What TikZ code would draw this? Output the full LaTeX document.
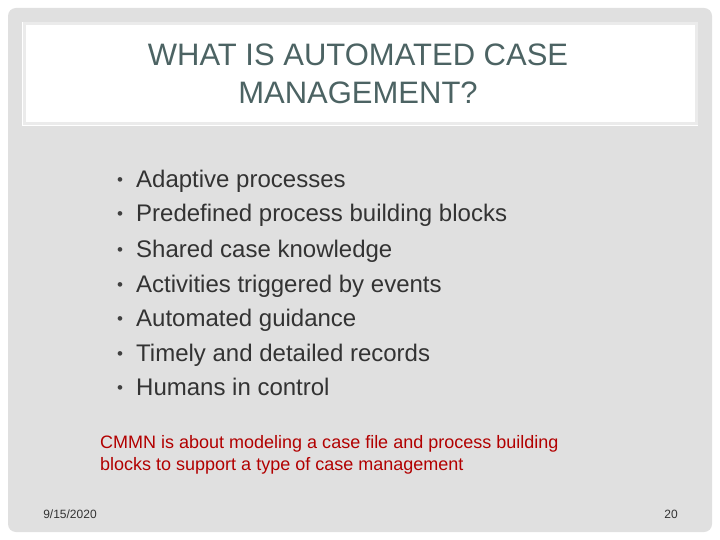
\documentclass[tikz,border=0pt]{standalone}
\usepackage{fontspec}
\setmainfont{Liberation Sans}
\begin{document}
\begin{tikzpicture}[x=1pt,y=-1pt,inner sep=0pt,
  bul/.style={anchor=base west,font=\fontsize{24}{28}\selectfont,text=black!80},
  dot/.style={anchor=base west,font=\fontsize{17}{20}\selectfont,text=black!75},
  red/.style={anchor=base west,font=\fontsize{18}{21}\selectfont,text=red!70!black},
  small/.style={font=\fontsize{12}{14}\selectfont,text=black!80}]
\useasboundingbox (0,0) rectangle (720,540);
\fill[white] (0,0) rectangle (720,540);
\fill[black!12,rounded corners=8] (8,8) rectangle (712,532);
\fill[white] (22,22) rectangle (698,126);
\draw[black!8,line width=3] (24,24) rectangle (696,124);
\node[font=\fontsize{31}{38}\selectfont,text=black!55!teal!40!gray,align=center] (t) at (358,74) {WHAT IS AUTOMATED CASE\\MANAGEMENT?};
\foreach \y/\s [count=\i] in {188/Adaptive processes,222/Predefined process building blocks,257/Shared case knowledge,292/Activities triggered by events,326/Automated guidance,361/Timely and detailed records,395/Humans in control}{
  \node[dot] (b\i) at (117,\y-2) {•};
  \node[bul] (l\i) at (136,\y) {\s};
}
\node[red] (r1) at (100,448) {CMMN is about modeling a case file and process building};
\node[red] (r2) at (100,470) {blocks to support a type of case management};
\node[small] (d) at (70,514) {9/15/2020};
\node[small] (p) at (671,514) {20};
\end{tikzpicture}
\end{document}
